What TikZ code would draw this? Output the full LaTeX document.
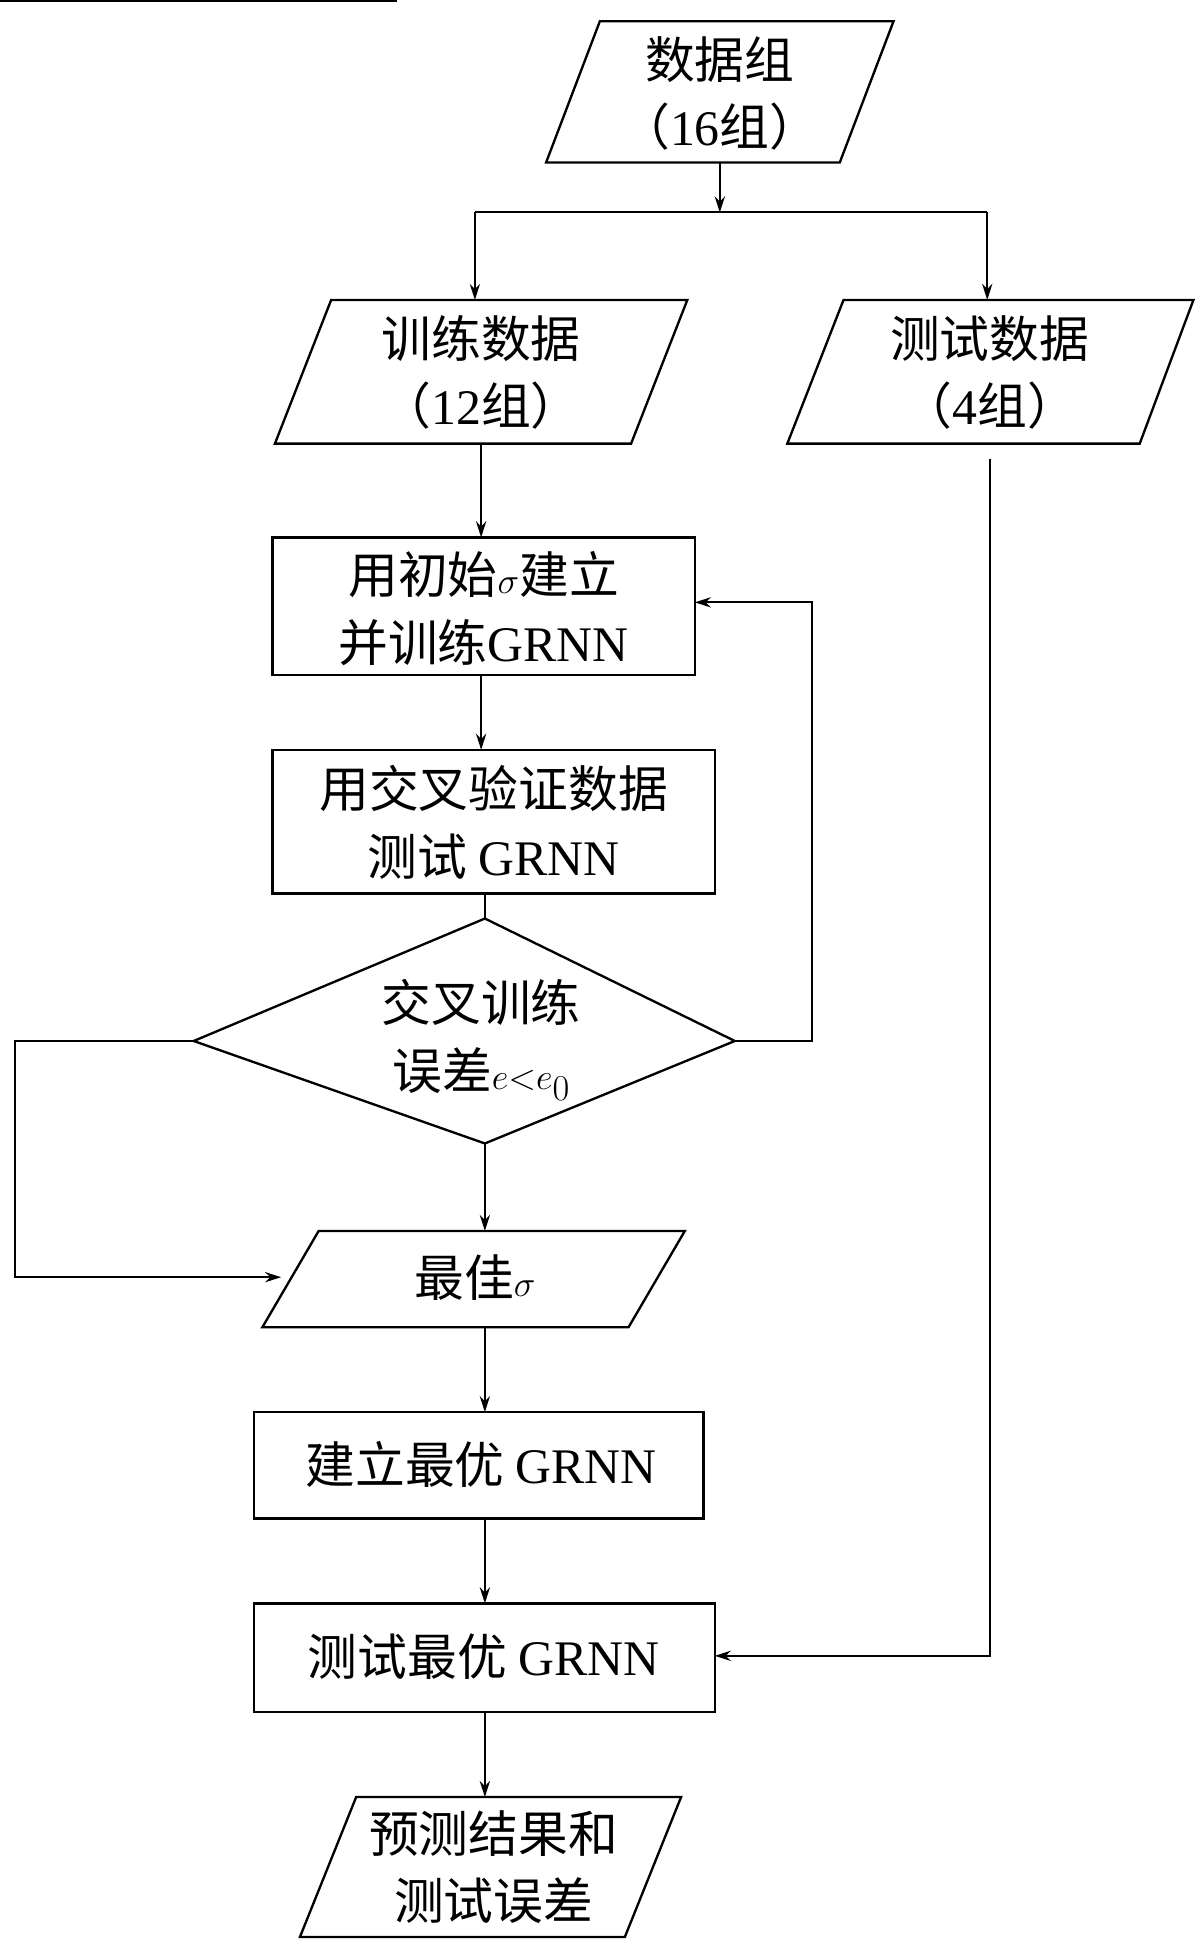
\documentclass[tikz,border=0pt]{standalone}
\usepackage{fontspec}
\setmainfont{Liberation Serif}
\newfontfamily\cjk{Noto Sans CJK SC}
\usetikzlibrary{arrows.meta}
\begin{document}
\begin{tikzpicture}[x=0.03cm,y=-0.03cm,
  shp/.style={draw,line width=1.6pt},
  con/.style={draw,line width=1.3pt},
  arr/.style={con,-{Stealth[length=11pt,width=7pt]}},
  txt/.style={font=\fontsize{34}{46}\selectfont\cjk,align=center,inner sep=0pt}]
\useasboundingbox (0,0) rectangle (960,1562);
% data group
\draw[shp] (480,17)--(715,17)--(672,130)--(437,130)--cycle;
\node[txt] (d) at (576,75) {数据组\\（{\rmfamily 16}组）};
\coordinate (dB) at (576,130);
\coordinate (j) at (576,170);
\coordinate (jl) at (380,170);
\coordinate (jr) at (790,170);
% training
\draw[shp] (265,240)--(550,240)--(505,355)--(220,355)--cycle;
\node[txt] (tr) at (385,298) {训练数据\\（{\rmfamily 12}组）};
\coordinate (trT) at (380,240); \coordinate (trB) at (385,355);
% test
\draw[shp] (675,240)--(955,240)--(912,355)--(630,355)--cycle;
\node[txt] (te) at (792,298) {测试数据\\（{\rmfamily 4}组）};
\coordinate (teT) at (790,240); \coordinate (teB) at (792,367);
% box1
\node[shp,minimum width=338\pgflinewidth, inner sep=0pt] at (0,0) {};
\draw[shp] (218,430) rectangle (556,540);
\node[txt] (b1) at (387,487) {用初始$\sigma$建立\\并训练{\rmfamily GRNN}};
\coordinate (b1T) at (385,430); \coordinate (b1B) at (385,540); \coordinate (b1R) at (556,482);
% box2
\draw[shp] (218,600) rectangle (572,715);
\node[txt] (b2) at (395,658) {用交叉验证数据\\测试 {\rmfamily GRNN}};
\coordinate (b2T) at (385,600); \coordinate (b2B) at (388,715);
% diamond
\draw[shp] (388,735)--(588,833)--(388,915)--(155,833)--cycle;
\coordinate (dT) at (388,735); \coordinate (dR) at (588,833);
\coordinate (dL) at (155,833); \coordinate (dBt) at (388,915);
\node[txt] (dm) at (385,832) {交叉训练\\误差$e{<}e_0$};
% best sigma
\draw[shp] (255,985)--(548,985)--(503,1062)--(210,1062)--cycle;
\node[txt] (bs) at (380,1022) {最佳$\sigma$};
\coordinate (bsT) at (388,985); \coordinate (bsB) at (388,1062); \coordinate (bsL) at (225,1022);
% box3
\draw[shp] (203,1130) rectangle (563,1215);
\node[txt] (b3) at (385,1172) {建立最优 {\rmfamily GRNN}};
\coordinate (b3T) at (388,1130); \coordinate (b3B) at (388,1215);
% box4
\draw[shp] (203,1283) rectangle (572,1370);
\node[txt] (b4) at (387,1326) {测试最优 {\rmfamily GRNN}};
\coordinate (b4T) at (388,1283); \coordinate (b4B) at (388,1370); \coordinate (b4R) at (572,1325);
% output
\draw[shp] (285,1438)--(545,1438)--(500,1550)--(240,1550)--cycle;
\node[txt] (o) at (395,1494) {预测结果和\\测试误差};
\coordinate (oT) at (388,1438);
% connectors
\draw[arr] (dB)--(j);
\draw[con] (jl)--(jr);
\draw[arr] (jl)--(trT);
\draw[arr] (jr)--(teT);
\draw[arr] (trB)--(b1T);
\draw[arr] (b1B)--(b2T);
\draw[con] (b2B)--(dT);
\draw[arr] (dR)--(650,833)--(650,482)--(b1R);
\draw[arr] (dL)--(12,833)--(12,1022)--(bsL);
\draw[arr] (dBt)--(bsT);
\draw[arr] (bsB)--(b3T);
\draw[arr] (b3B)--(b4T);
\draw[arr] (teB)--(792,1325)--(b4R);
\draw[arr] (b4B)--(oT);
\end{tikzpicture}
\end{document}
